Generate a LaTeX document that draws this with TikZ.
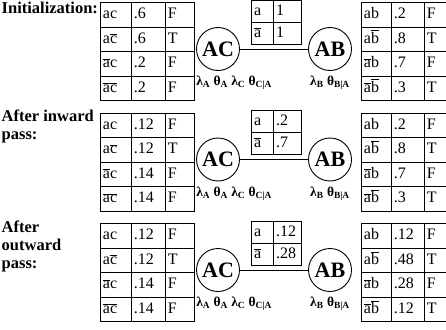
\documentclass[tikz,border=0pt]{standalone}
\usepackage{fontspec}
\setmainfont{Liberation Serif}
\usetikzlibrary{matrix}
\usetikzlibrary{positioning}

\newcommand{\nbar}[1]{$\overline{\mbox{#1}}$}

\begin{document}
\begin{tikzpicture}[
  x=1pt, y=-1pt,
  cell/.style={
    draw,
    line width=0.9pt,
    inner xsep=2.5pt,
    inner ysep=0pt,
    text height=11.5pt,
    text depth=3.5pt,
    align=left,
    font=\fontsize{16}{18}\selectfont
  },
  cpt/.style={
    matrix of nodes,
    inner sep=0pt,
    outer sep=0pt,
    nodes={cell, minimum height=#1},
    column sep=-0.9pt,
    row sep=-0.9pt
  },
  tabL/.style={
    cpt=24.5pt,
    column 1/.style={nodes={text width=26pt}},
    column 2/.style={nodes={text width=29pt}},
    column 3/.style={nodes={text width=24pt}}
  },
  tabM/.style={
    cpt=22pt,
    column 1/.style={nodes={text width=17pt}},
    column 2/.style={nodes={text width=23pt}}
  },
  tabR/.style={
    cpt=24.5pt,
    column 1/.style={nodes={text width=25pt}},
    column 2/.style={nodes={text width=28pt}},
    column 3/.style={nodes={text width=16.5pt}}
  },
  clique/.style={
    draw,
    circle,
    line width=0.9pt,
    minimum size=43pt,
    inner sep=0pt,
    font=\bfseries\fontsize{22}{24}\selectfont
  },
  greek/.style={inner sep=0pt, font=\bfseries\fontsize{13.5}{15}\selectfont},
  title/.style={
    inner sep=0pt,
    anchor=north west,
    align=left,
    font=\bfseries\fontsize{16.5}{18}\selectfont
  },
  link/.style={line width=0.9pt}
]
\useasboundingbox (0,0) rectangle (446,329);

% initialization
\node[title] (init) at (1.5,2) {Initialization:};
\matrix (potAC1) [tabL, anchor=north west] at (100,2) {
  ac & .6 & F \\
  a\nbar{c} & .6 & T \\
  \nbar{a}c & .2 & F \\
  \nbar{a}\nbar{c} & .2 & F \\
};
\matrix (sepA1) [tabM, anchor=south] at (276.5,44.5) {
  a & 1 \\
  \nbar{a} & 1 \\
};
\node[clique] (cliqAC1) at (218,49) {AC};
\node[clique] (cliqAB1) at (330,49) {AB};
\draw[link] (cliqAC1) -- (cliqAB1);
\node[greek, anchor=north west, yshift=-5pt] (parAC1) at (cliqAC1.south -| cliqAC1.west)
  {λ\textsubscript{A} θ\textsubscript{A} λ\textsubscript{C} θ\textsubscript{C|A}};
\node[greek, below=5pt of cliqAB1] (parAB1) {λ\textsubscript{B} θ\textsubscript{B|A}};
\matrix (potAB1) [tabR, anchor=north west] at (361,2) {
  ab & .2 & F \\
  a\nbar{b} & .8 & T \\
  \nbar{a}b & .7 & F \\
  \nbar{a}\nbar{b} & .3 & T \\
};

% inward pass
\node[title] (inward) at (1.5,110) {After inward\\pass:};
\matrix (potAC2) [tabL, anchor=north west] at (100,112.5) {
  ac & .12 & F \\
  a\nbar{c} & .12 & T \\
  \nbar{a}c & .14 & F \\
  \nbar{a}\nbar{c} & .14 & F \\
};
\matrix (sepA2) [tabM, anchor=south] at (276.5,155) {
  a & .2 \\
  \nbar{a} & .7 \\
};
\node[clique] (cliqAC2) at (218,159.5) {AC};
\node[clique] (cliqAB2) at (330,159.5) {AB};
\draw[link] (cliqAC2) -- (cliqAB2);
\node[greek, anchor=north west, yshift=-5pt] (parAC2) at (cliqAC2.south -| cliqAC2.west)
  {λ\textsubscript{A} θ\textsubscript{A} λ\textsubscript{C} θ\textsubscript{C|A}};
\node[greek, below=5pt of cliqAB2] (parAB2) {λ\textsubscript{B} θ\textsubscript{B|A}};
\matrix (potAB2) [tabR, anchor=north west] at (361,112.5) {
  ab & .2 & F \\
  a\nbar{b} & .8 & T \\
  \nbar{a}b & .7 & F \\
  \nbar{a}\nbar{b} & .3 & T \\
};

% outward pass
\node[title] (outward) at (1.5,221) {After\\outward\\pass:};
\matrix (potAC3) [tabL, anchor=north west] at (100,223) {
  ac & .12 & F \\
  a\nbar{c} & .12 & T \\
  \nbar{a}c & .14 & F \\
  \nbar{a}\nbar{c} & .14 & F \\
};
\matrix (sepA3) [tabM, anchor=south] at (276.5,265.5) {
  a & .12 \\
  \nbar{a} & .28 \\
};
\node[clique] (cliqAC3) at (218,270) {AC};
\node[clique] (cliqAB3) at (330,270) {AB};
\draw[link] (cliqAC3) -- (cliqAB3);
\node[greek, anchor=north west, yshift=-5pt] (parAC3) at (cliqAC3.south -| cliqAC3.west)
  {λ\textsubscript{A} θ\textsubscript{A} λ\textsubscript{C} θ\textsubscript{C|A}};
\node[greek, below=5pt of cliqAB3] (parAB3) {λ\textsubscript{B} θ\textsubscript{B|A}};
\matrix (potAB3) [tabR, anchor=north west] at (361,223) {
  ab & .12 & F \\
  a\nbar{b} & .48 & T \\
  \nbar{a}b & .28 & F \\
  \nbar{a}\nbar{b} & .12 & T \\
};
\end{tikzpicture}
\end{document}
